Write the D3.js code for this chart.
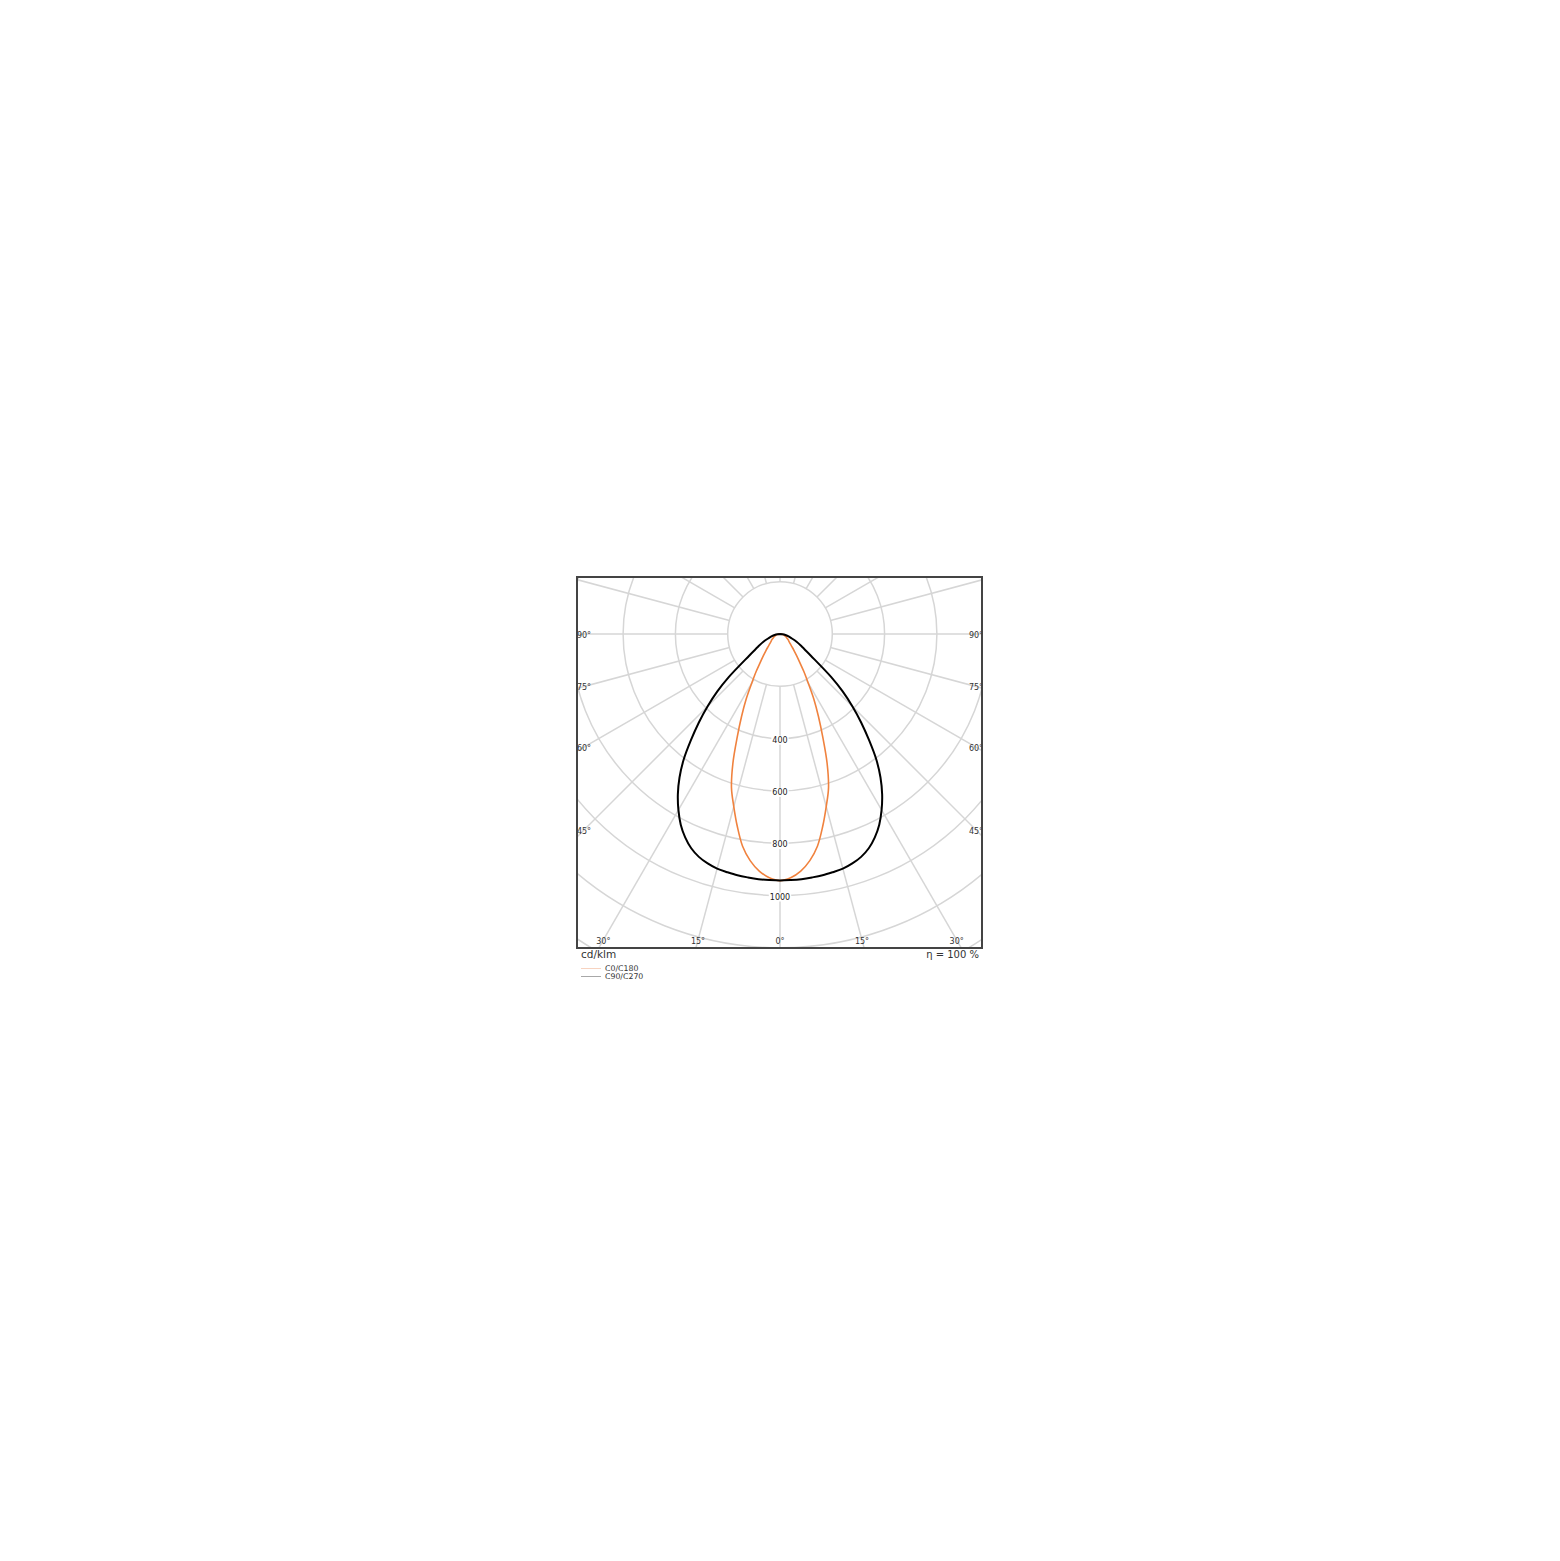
<!DOCTYPE html>
<html>
<head>
<meta charset="utf-8">
<script src="https://cdn.jsdelivr.net/npm/d3@7"></script>
<style>
  html, body { margin: 0; padding: 0; background: #fff; }
  text { font-family: 'DejaVu Sans', sans-serif; }
</style>
</head>
<body>
<svg id="chart" width="1560" height="1561"></svg>
<script>
// gamma angles (deg from nadir) and intensities in cd/klm
const gammaAngles = [0, 2.5, 5, 7.5, 10, 12.5, 15, 17.5, 20, 22.5, 25, 27.5, 30, 32.5, 35, 37.5, 40, 42.5, 45, 47.5, 50, 55, 60, 65, 70, 75, 80, 85, 90];
const c0c180 = [943, 933, 910, 874, 824, 754, 683, 617, 527, 428, 348, 280, 215, 169, 130, 105, 85, 70, 58, 51, 45, 38, 30, 25, 20, 15, 10, 5, 0];
const c90c270 = [943, 942, 941, 939, 937, 933, 929, 920, 907, 887, 858, 822, 777, 727, 670, 605, 530, 460, 392, 325, 255, 143, 97, 70, 46, 32, 21, 10, 0];

const ringValues = [200, 400, 600, 800, 1000, 1200, 1400, 1600, 1800];
const ringLabels = [400, 600, 800, 1000];
const angleLabels = [0, 15, 30, 45, 60, 75, 90];
const legendLabels = ['C0/C180', 'C90/C270'];
const unitLabel = 'cd/klm';
const efficiencyLabel = 'η = 100 %';

const svg = d3.select('#chart');

const originX = 780;
const originY = 634;
const frame = { x: 577, y: 577, w: 405, h: 371 };

const r = d3.scaleLinear().domain([0, 1000]).range([0, 261.5]);

svg.append('defs').append('clipPath').attr('id', 'frameClip')
  .append('rect')
  .attr('x', frame.x).attr('y', frame.y)
  .attr('width', frame.w).attr('height', frame.h);

const grid = svg.append('g').attr('clip-path', 'url(#frameClip)');

// rings
ringValues.forEach(v => {
  grid.append('circle')
    .attr('cx', originX)
    .attr('cy', originY)
    .attr('r', r(v))
    .attr('fill', 'none')
    .attr('stroke', '#d6d6d6')
    .attr('stroke-width', 1.5);
});

// radial lines every 15 deg
d3.range(0, 360, 15).forEach(a => {
  const rad = a * Math.PI / 180;
  const r0 = r(200), r1 = r(1800);
  grid.append('line')
    .attr('x1', originX + r0 * Math.sin(rad))
    .attr('y1', originY + r0 * Math.cos(rad))
    .attr('x2', originX + r1 * Math.sin(rad))
    .attr('y2', originY + r1 * Math.cos(rad))
    .attr('stroke', '#d6d6d6')
    .attr('stroke-width', 1.5);
});

// value labels down the 0 deg line
ringLabels.forEach(v => {
  const g = svg.append('g');
  const t = g.append('text')
    .attr('x', originX)
    .attr('y', originY + r(v) + 1.5)
    .attr('text-anchor', 'middle')
    .attr('dominant-baseline', 'central')
    .attr('font-size', '8px')
    .attr('fill', '#222')
    .text(v);
  const bb = t.node().getBBox();
  g.insert('rect', 'text')
    .attr('x', bb.x - 1).attr('y', bb.y)
    .attr('width', bb.width + 2).attr('height', bb.height)
    .attr('fill', '#fff');
});

// angle labels along the inside of the frame
const innerHalfW = 196, innerBottom = 306;
angleLabels.forEach(a => {
  const rad = a * Math.PI / 180;
  const s = Math.sin(rad), c = Math.cos(rad);
  const t = Math.min(s > 0 ? innerHalfW / s : Infinity, c > 1e-6 ? innerBottom / c : Infinity);
  const sides = a === 0 ? [1] : [-1, 1];
  sides.forEach(side => {
    svg.append('text')
      .attr('x', originX + side * t * s)
      .attr('y', originY + t * c + 1)
      .attr('text-anchor', 'middle')
      .attr('dominant-baseline', 'central')
      .attr('font-size', '8px')
      .attr('fill', '#333')
      .text(a + '°');
  });
});

// curves: left half mirrored, right half
const radial = d3.lineRadial()
  .angle(d => d[0])
  .radius(d => r(d[1]))
  .curve(d3.curveCatmullRom.alpha(0.5));

function curvePoints(values) {
  const pts = [];
  for (let i = gammaAngles.length - 1; i >= 0; i--) {
    pts.push([Math.PI + gammaAngles[i] * Math.PI / 180, values[i]]);
  }
  for (let i = 1; i < gammaAngles.length; i++) {
    pts.push([Math.PI - gammaAngles[i] * Math.PI / 180, values[i]]);
  }
  return pts;
}

const curves = svg.append('g').attr('transform', `translate(${originX},${originY})`);

curves.append('path')
  .attr('d', radial(curvePoints(c0c180)))
  .attr('fill', 'none')
  .attr('stroke', '#f0823e')
  .attr('stroke-width', 1.6);

curves.append('path')
  .attr('d', radial(curvePoints(c90c270)))
  .attr('fill', 'none')
  .attr('stroke', '#000')
  .attr('stroke-width', 2);

// frame
svg.append('rect')
  .attr('x', frame.x).attr('y', frame.y)
  .attr('width', frame.w).attr('height', frame.h)
  .attr('fill', 'none')
  .attr('stroke', '#444')
  .attr('stroke-width', 2);

svg.append('text')
  .attr('x', 581).attr('y', 958)
  .attr('font-size', '10.5px')
  .attr('fill', '#333')
  .text(unitLabel);

svg.append('text')
  .attr('x', 979).attr('y', 958)
  .attr('text-anchor', 'end')
  .attr('font-size', '10px')
  .attr('fill', '#333')
  .text(efficiencyLabel);

// legend
const legendColors = ['#f7d3c0', '#a8a8a8'];
legendLabels.forEach((label, i) => {
  const y = 968.5 + i * 8;
  svg.append('line')
    .attr('x1', 581).attr('x2', 601)
    .attr('y1', y).attr('y2', y)
    .attr('stroke', legendColors[i])
    .attr('stroke-width', 1);
  svg.append('text')
    .attr('x', 605).attr('y', y)
    .attr('dominant-baseline', 'central')
    .attr('font-size', '7.8px')
    .attr('fill', '#333')
    .text(label);
});
</script>
</body>
</html>
